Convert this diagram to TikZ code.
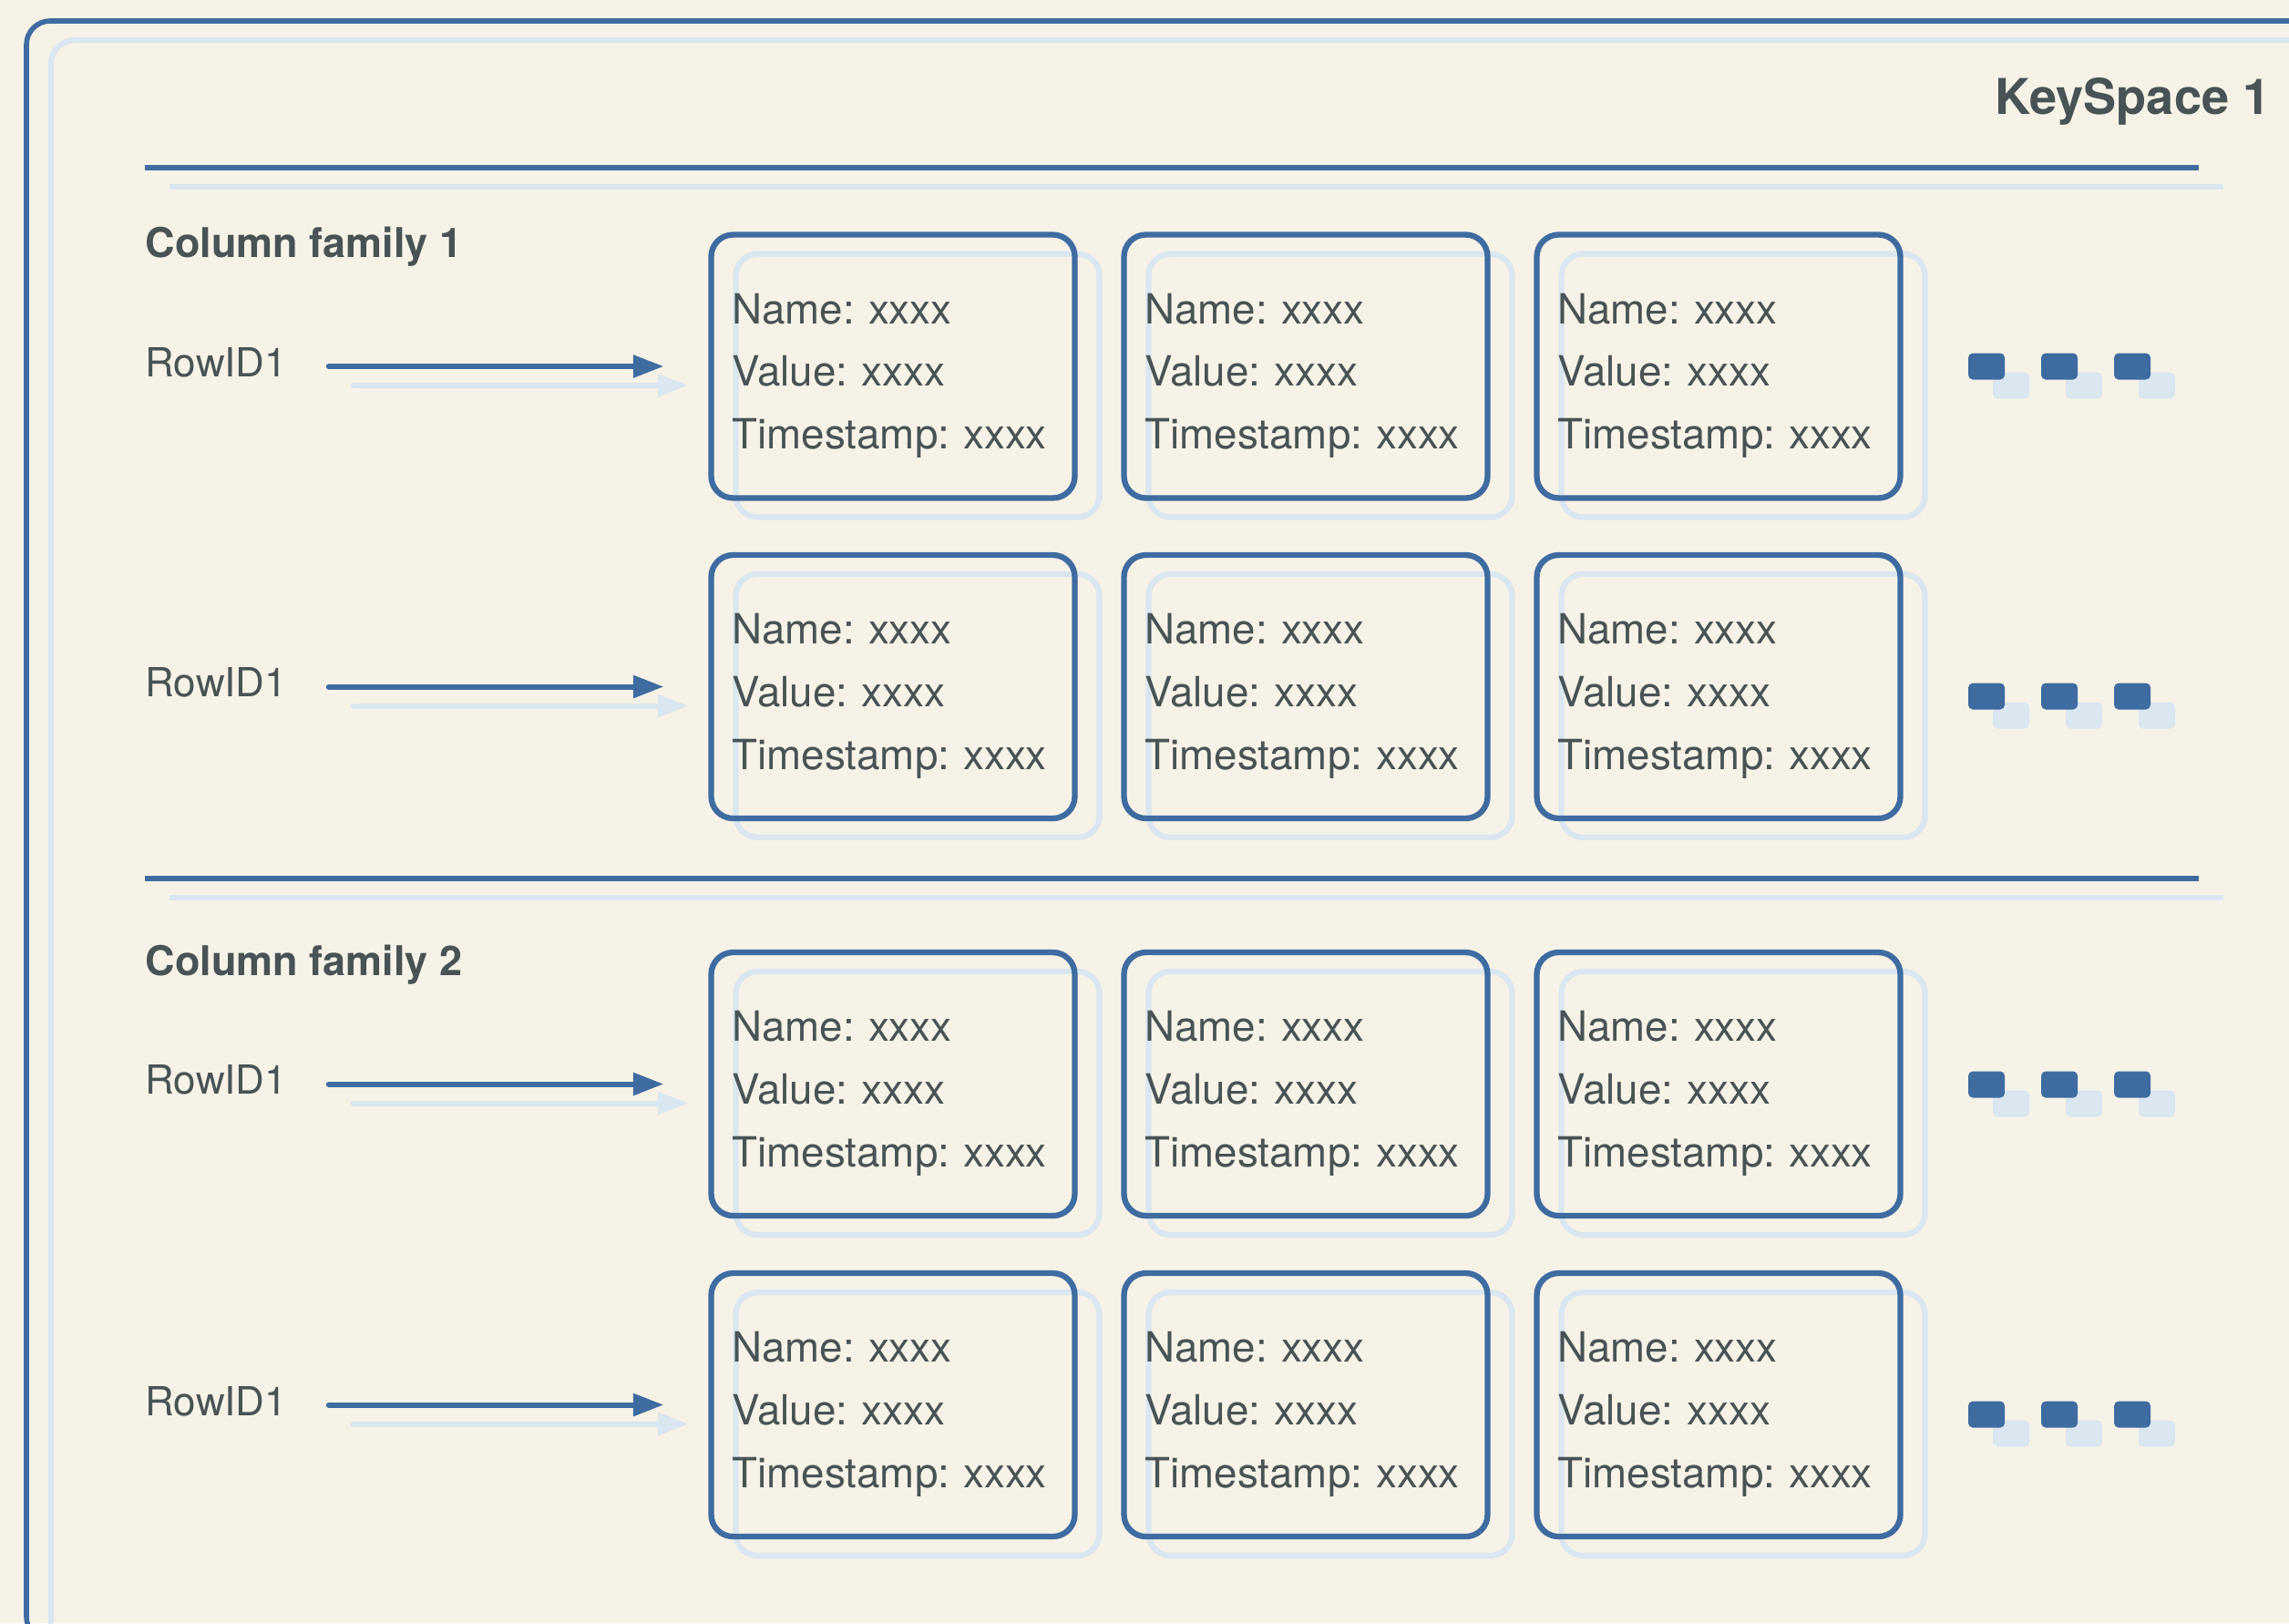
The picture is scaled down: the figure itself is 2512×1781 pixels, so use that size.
\documentclass[tikz,border=0pt]{standalone}
\usepackage{fontspec}
\setmainfont{TeX Gyre Heros}
\frenchspacing
\usetikzlibrary{arrows.meta,shadows}
\definecolor{paper}{RGB}{247,242,231}
\definecolor{kblue}{RGB}{62,108,160}
\definecolor{ghostblue}{RGB}{218,230,240}
\definecolor{ink}{RGB}{72,83,86}

\begin{document}
\begin{tikzpicture}[x=0.1mm,y=-0.1mm]
\tikzstyle{every node}+=[inner sep=0pt, text=ink]
\tikzstyle{cell}=[draw=kblue, line width=1.8pt, rounded corners=2.4mm, minimum width=39.9mm, minimum height=28.9mm, inner xsep=2.3mm, text width=35.3mm, align=left, text height=12pt, text depth=38.7pt, font=\fontsize{13}{19.6}\selectfont, general shadow={shadow xshift=2.7mm, shadow yshift=-2.1mm, draw=ghostblue, line width=1.8pt}]
\tikzstyle{moredot}=[fill=kblue, rounded corners=0.5mm, minimum width=4mm, minimum height=2.9mm, general shadow={shadow xshift=2.7mm, shadow yshift=-2.1mm, fill=ghostblue}]
\tikzstyle{rowlabel}=[anchor=base west, font=\fontsize{12.5}{15}\selectfont]
\tikzstyle{familylabel}=[anchor=base west, font=\bfseries\fontsize{12.8}{15}\selectfont]
\tikzstyle{link}=[kblue, line width=1.7pt, line cap=round, -{Triangle[length=9.5pt,width=6.8pt]}, shorten <=4.5mm, shorten >=4.9mm]
\tikzstyle{ghostshift}=[transform canvas={shift={(27,21)}}]
\useasboundingbox (0,0) rectangle (2512,1781);
\fill[paper] (0,0) rectangle (2512,1781);
\clip (0,0) rectangle (2512,1781);
\draw[ghostblue, line width=1.8pt, rounded corners=2.6mm, ghostshift] (29,23) rectangle (2560,1800);
\draw[kblue, line width=1.6pt, rounded corners=2.6mm] (29,23) rectangle (2560,1800);
\draw[ghostblue, line width=1.8pt, ghostshift] (159,184) -- (2413,184);
\draw[kblue, line width=1.7pt] (159,184) -- (2413,184);
\draw[ghostblue, line width=1.8pt, ghostshift] (159,964) -- (2413,964);
\draw[kblue, line width=1.7pt] (159,964) -- (2413,964);
\node[anchor=base east, font=\bfseries\fontsize{15.4}{18}\selectfont] (ks) at (2492,125) {KeySpace 1};
\node[familylabel] (cf1) at (159,282) {Column family 1};
\node[familylabel] (cf2) at (159,1070) {Column family 2};
\node[rowlabel] (r1) at (159,413) {RowID1};
\node[rowlabel] (r2) at (159,764) {RowID1};
\node[rowlabel] (r3) at (159,1200) {RowID1};
\node[rowlabel] (r4) at (159,1553) {RowID1};
\node[cell] (c11) at (980,402) {Name: xxxx\\Value: xxxx\\Timestamp: xxxx};
\node[cell] (c12) at (1433,402) {Name: xxxx\\Value: xxxx\\Timestamp: xxxx};
\node[cell] (c13) at (1886,402) {Name: xxxx\\Value: xxxx\\Timestamp: xxxx};
\node[cell] (c21) at (980,753.5) {Name: xxxx\\Value: xxxx\\Timestamp: xxxx};
\node[cell] (c22) at (1433,753.5) {Name: xxxx\\Value: xxxx\\Timestamp: xxxx};
\node[cell] (c23) at (1886,753.5) {Name: xxxx\\Value: xxxx\\Timestamp: xxxx};
\node[cell] (c31) at (980,1189.5) {Name: xxxx\\Value: xxxx\\Timestamp: xxxx};
\node[cell] (c32) at (1433,1189.5) {Name: xxxx\\Value: xxxx\\Timestamp: xxxx};
\node[cell] (c33) at (1886,1189.5) {Name: xxxx\\Value: xxxx\\Timestamp: xxxx};
\node[cell] (c41) at (980,1541.5) {Name: xxxx\\Value: xxxx\\Timestamp: xxxx};
\node[cell] (c42) at (1433,1541.5) {Name: xxxx\\Value: xxxx\\Timestamp: xxxx};
\node[cell] (c43) at (1886,1541.5) {Name: xxxx\\Value: xxxx\\Timestamp: xxxx};
\draw[link, ghostblue, ghostshift] (r1.east |- c11.west) -- (c11.west);
\draw[link] (r1.east |- c11.west) -- (c11.west);
\draw[link, ghostblue, ghostshift] (r2.east |- c21.west) -- (c21.west);
\draw[link] (r2.east |- c21.west) -- (c21.west);
\draw[link, ghostblue, ghostshift] (r3.east |- c31.west) -- (c31.west);
\draw[link] (r3.east |- c31.west) -- (c31.west);
\draw[link, ghostblue, ghostshift] (r4.east |- c41.west) -- (c41.west);
\draw[link] (r4.east |- c41.west) -- (c41.west);
\node[moredot] (m11) at (2180,402) {};
\node[moredot] (m12) at (2260,402) {};
\node[moredot] (m13) at (2340,402) {};
\node[moredot] (m21) at (2180,764) {};
\node[moredot] (m22) at (2260,764) {};
\node[moredot] (m23) at (2340,764) {};
\node[moredot] (m31) at (2180,1190) {};
\node[moredot] (m32) at (2260,1190) {};
\node[moredot] (m33) at (2340,1190) {};
\node[moredot] (m41) at (2180,1552) {};
\node[moredot] (m42) at (2260,1552) {};
\node[moredot] (m43) at (2340,1552) {};
\end{tikzpicture}
\end{document}
